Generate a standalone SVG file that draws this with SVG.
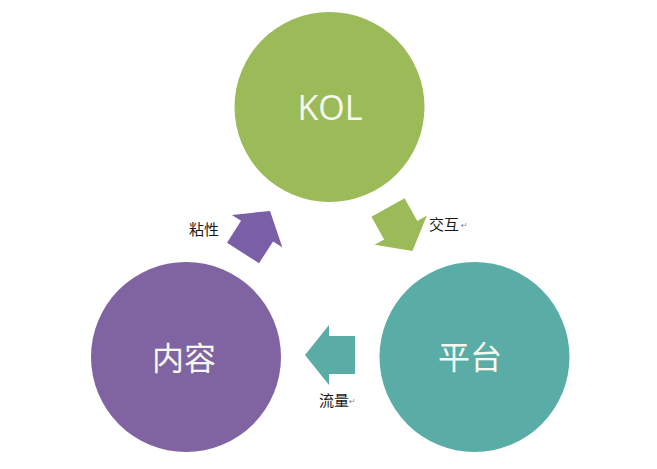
<svg xmlns="http://www.w3.org/2000/svg" width="657" height="469" viewBox="0 0 657 469">
<style>
.cn{font-family:"Noto Sans CJK SC","Noto Sans",sans-serif;}
.node-text{fill:#f6f8f0;text-anchor:middle;}
.lbl{font-size:15px;fill:#1a1a1a;}
.ret{font-family:"DejaVu Sans",sans-serif;font-size:8px;fill:#888;}
</style>
<defs>
<polygon id="arrow" points="0,-19 26,-19 26,-30 50,0 26,30 26,19 0,19"/>
</defs>
<rect width="657" height="469" fill="#ffffff"/>
<g id="node-kol">
<circle cx="329.5" cy="107" r="95" fill="#9bbb59"/>
<text x="330" y="120" class="node-text" font-family="'Open Sans','Noto Sans',sans-serif" font-size="34" fill="#f4fae6">KOL</text>
</g>
<g id="node-content">
<circle cx="186" cy="357" r="95" fill="#8064a2"/>
<text x="184" y="370" class="cn node-text" font-size="32">内容</text>
</g>
<g id="node-platform">
<circle cx="474.5" cy="357" r="95" fill="#5aaca6"/>
<text x="470" y="369" class="cn node-text" font-size="32">平台</text>
</g>
<g id="connectors">
<use href="#arrow" fill="#7b5fa6" transform="translate(243,253) rotate(-57.3)"/>
<use href="#arrow" fill="#9bbb59" transform="translate(388,207.5) rotate(60.7)"/>
<use href="#arrow" fill="#5aaca6" transform="translate(355,355) rotate(180)"/>
<text x="189" y="234.5" class="cn lbl">粘性</text>
<text x="429" y="229.5" class="cn lbl">交互</text>
<text x="461" y="228" class="ret">↵</text>
<text x="319" y="405.5" class="cn lbl">流量</text>
<text x="349" y="404" class="ret">↵</text>
</g>
</svg>
